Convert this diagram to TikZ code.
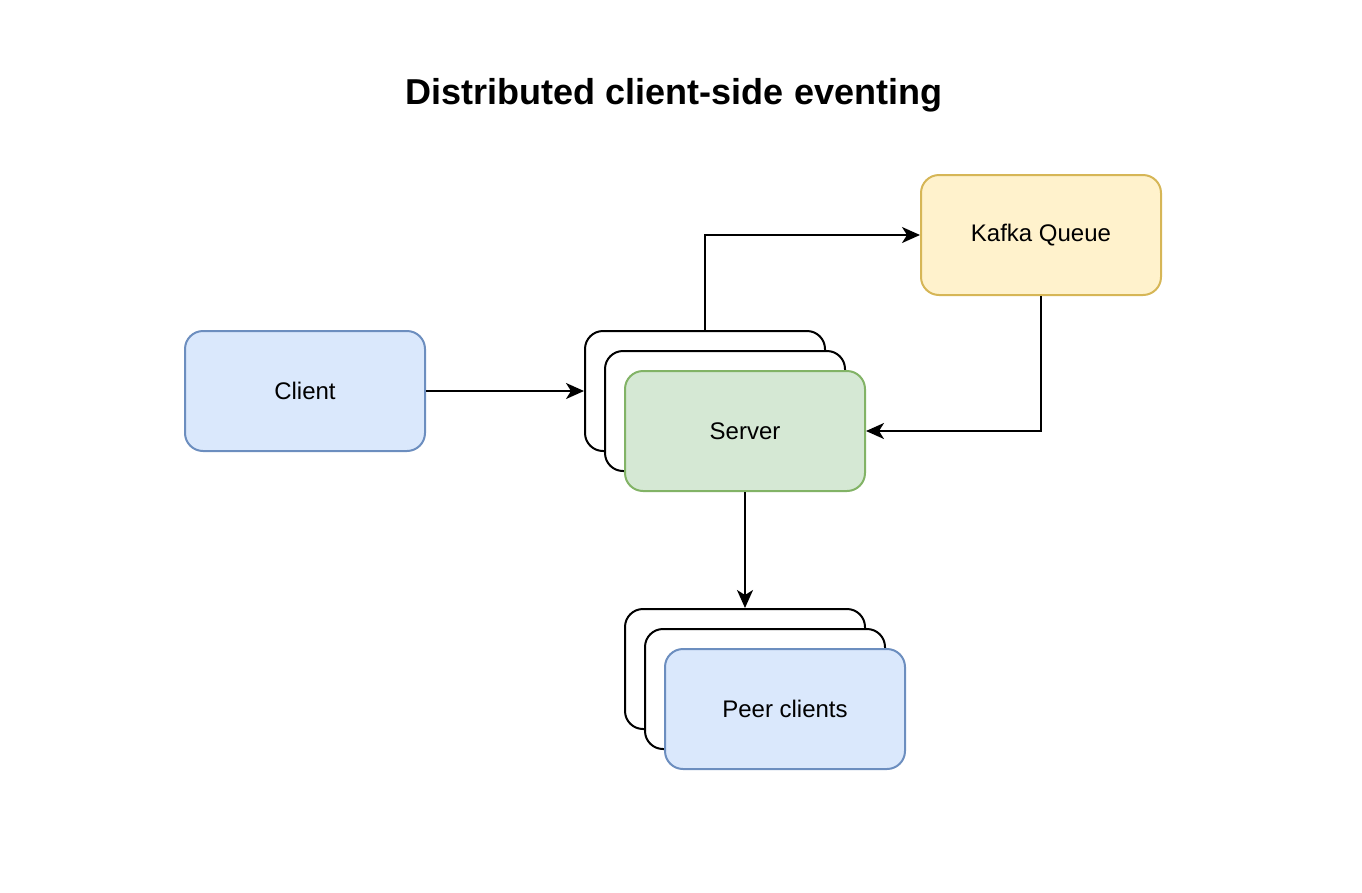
\documentclass[tikz,border=0pt]{standalone}
\usepackage{fontspec}
\setmainfont{Liberation Sans}
\usetikzlibrary{arrows.meta}
\definecolor{bluefill}{HTML}{DAE8FC}
\definecolor{bluedraw}{HTML}{6C8EBF}
\definecolor{greenfill}{HTML}{D5E8D4}
\definecolor{greendraw}{HTML}{82B366}
\definecolor{yellowfill}{HTML}{FFF2CC}
\definecolor{yellowdraw}{HTML}{D6B656}
\newcommand{\lbl}[1]{\raisebox{-1.5pt}{#1}}
\tikzset{
  box/.style={rectangle, rounded corners=18pt, minimum width=240pt, minimum height=120pt, line width=2pt, font=\fontsize{24}{28}\selectfont, inner sep=0pt},
  plain/.style={box, draw=black, fill=white},
  bluebox/.style={box, draw=bluedraw, fill=bluefill},
  greenbox/.style={box, draw=greendraw, fill=greenfill},
  yellowbox/.style={box, draw=yellowdraw, fill=yellowfill},
  conn/.style={line width=2pt, -{Stealth[length=18pt, width=16pt, inset=5pt]}}
}
\begin{document}
\begin{tikzpicture}[x=1pt, y=-1pt]
\useasboundingbox (0,0) rectangle (1362,892);
\node[font=\fontsize{36}{40}\selectfont\bfseries] (title) at (674,95) {Distributed client-side eventing};
\node[bluebox] (client) at (305,391) {\lbl{Client}};
\node[plain] (srvA) at (705,391) {};
\node[plain] (srvB) at (725,411) {};
\node[greenbox] (server) at (745,431) {\lbl{Server}};
\node[yellowbox] (kafka) at (1041,235) {\lbl{Kafka Queue}};
\node[plain] (peerA) at (745,669) {};
\node[plain] (peerB) at (765,689) {};
\node[bluebox] (peer) at (785,709) {\lbl{Peer clients}};
\draw[conn] (client.east) -- (srvA.west);
\draw[conn] (srvA.north) |- (kafka.west);
\draw[conn] (kafka.south) |- (server.east);
\draw[conn] (server.south) -- (peerA.north);
\end{tikzpicture}
\end{document}
